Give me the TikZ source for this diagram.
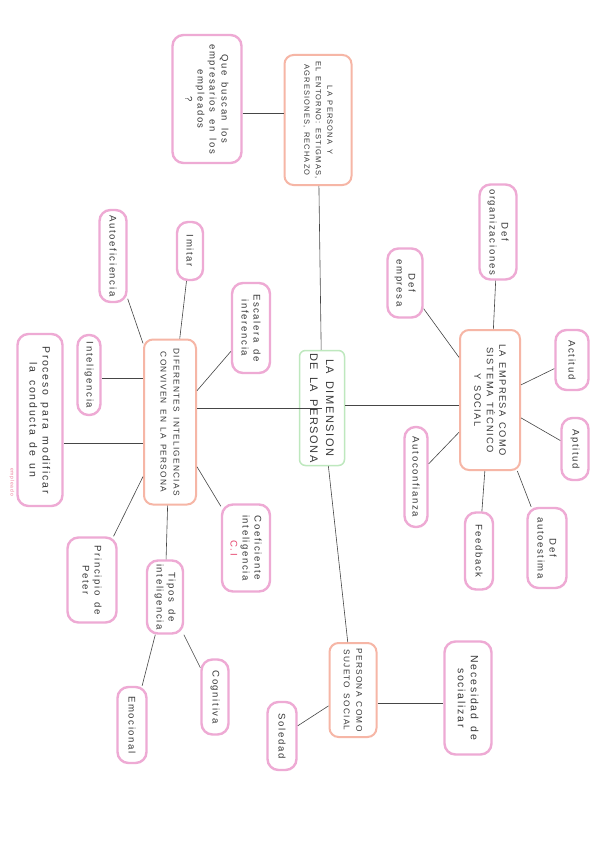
\documentclass[tikz,border=0pt]{standalone}
\usepackage{fontspec}
\setmainfont{Liberation Sans}
\newfontfamily\hand[LetterSpace=17,WordSpace=1.6]{Liberation Sans}
\newfontfamily\handcaps[LetterSpace=15,WordSpace=1.5]{Liberation Sans}
\usetikzlibrary{calc}
\definecolor{leafpink}{RGB}{238,170,212}
\definecolor{salmon}{RGB}{246,182,166}
\definecolor{mint}{RGB}{190,232,190}
\definecolor{inkgray}{RGB}{70,70,70}
\definecolor{ciRed}{RGB}{230,70,110}
\begin{document}
\begin{tikzpicture}[x=1pt,y=-1pt,
  every node/.style={rotate=-90, align=center, text=black!78, inner sep=1pt},
  leaf/.style={draw=leafpink, line width=2.4pt, rounded corners=11pt, font=\hand\fontsize{9.6}{12}\selectfont},
  mid/.style={draw=salmon, line width=2pt, rounded corners=9pt, font=\handcaps\fontsize{9.3}{12.5}\selectfont},
  root/.style={draw=mint, line width=1.5pt, rounded corners=6pt, font=\handcaps\fontsize{11}{16}\selectfont},
  link/.style={draw=inkgray, line width=0.6pt}]
\useasboundingbox[fill=white] (0,0) rectangle (608,848);

% centre and first level
\node[root, minimum width=115pt, minimum height=45pt] (root) at (322,408) {LA DIMENSION\\DE LA PERSONA};
\node[mid, minimum width=130pt, minimum height=67pt, font=\handcaps\fontsize{7.5}{11.5}\selectfont] (entorno) at (318,120) {LA PERSONA Y\\EL ENTORNO: ESTIGMAS,\\AGRESIONES, RECHAZO};
\node[mid, minimum width=165pt, minimum height=52pt, font=\handcaps\fontsize{8.3}{13}\selectfont] (dif) at (170,422) {DIFERENTES INTELIGENCIAS\\CONVIVEN EN LA PERSONA};
\node[mid, minimum width=140pt, minimum height=60pt] (empresa) at (490,400) {LA EMPRESA COMO\\SISTEMA TÉCNICO\\Y SOCIAL};
\node[mid, minimum width=94pt, minimum height=47pt, font=\handcaps\fontsize{8.3}{12.5}\selectfont] (sujeto) at (353,690) {PERSONA COMO\\SUJETO SOCIAL};

% leaves
\node[leaf, minimum width=128pt, minimum height=69pt, font=\hand\fontsize{9.5}{12}\selectfont] (quebuscan) at (207,99) {Que buscan los\\empresarios en los\\empleados\\?};

\node[leaf, minimum width=95pt, minimum height=37pt] (deforg) at (498,232) {Def\\organizaciones};
\node[leaf, minimum width=69pt, minimum height=35pt] (defemp) at (405,283) {Def\\empresa};
\node[leaf, minimum width=60pt, minimum height=33pt] (actitud) at (572,360) {Actitud};
\node[leaf, minimum width=62pt, minimum height=27pt] (aptitud) at (575,449) {Aptitud};
\node[leaf, minimum width=80pt, minimum height=39pt] (defauto) at (547,548) {Def\\autoestima};
\node[leaf, minimum width=77pt, minimum height=28pt] (feedback) at (479,551) {Feedback};
\node[leaf, minimum width=100pt, minimum height=23pt] (autoconf) at (416,477) {Autoconfianza};

\node[leaf, minimum width=92pt, minimum height=27pt] (autoef) at (113,256) {Autoeficiencia};
\node[leaf, minimum width=58pt, minimum height=26pt] (imitar) at (190,251) {Imitar};
\node[leaf, minimum width=90pt, minimum height=38pt] (escalera) at (251,328) {Escalera de\\inferencia};
\node[leaf, minimum width=80pt, minimum height=23pt] (intelig) at (89,375) {Inteligencia};
\node[leaf, minimum width=172pt, minimum height=45pt, font=\hand\fontsize{10.5}{13}\selectfont] (proceso) at (40,420) {Proceso para modificar\\la conducta de un};
\node[text=ciRed!70, font=\hand\fontsize{5}{6}\selectfont] (empleado) at (12,482) {empleado};
\node[leaf, minimum width=87pt, minimum height=48pt] (coef) at (246,548) {Coeficiente\\inteligencia\\\textcolor{ciRed}{C.I}};
\node[leaf, minimum width=85pt, minimum height=49pt] (principio) at (92,580) {Principio de\\Peter};
\node[leaf, minimum width=73pt, minimum height=36pt] (tipos) at (165,597) {Tipos de\\inteligencia};
\node[leaf, minimum width=75pt, minimum height=27pt] (cognitiva) at (215,697) {Cognitiva};
\node[leaf, minimum width=76pt, minimum height=29pt] (emocional) at (132,725) {Emocional};

\node[leaf, minimum width=113pt, minimum height=47pt, font=\hand\fontsize{10.5}{13}\selectfont] (necesidad) at (468,698) {Necesidad de\\socializar};
\node[leaf, minimum width=68pt, minimum height=29pt] (soledad) at (282,736) {Soledad};

% connectors
\draw[link] (root) -- (entorno);
\draw[link] (root.east |- 0,408) -- (dif.north |- 0,408);
\draw[link] (root.north |- 0,405) -- (empresa.south |- 0,405);
\draw[link] (root) -- (sujeto);
\draw[link] (quebuscan.north |- 0,113) -- (entorno.south |- 0,113);

\draw[link] (empresa) -- (deforg);
\draw[link] (empresa) -- (defemp);
\draw[link] (empresa) -- (actitud);
\draw[link] (empresa) -- (aptitud);
\draw[link] (empresa) -- (defauto);
\draw[link] (empresa) -- (feedback);
\draw[link] (empresa) -- (autoconf);

\draw[link] (dif) -- (autoef);
\draw[link] (dif) -- (imitar);
\draw[link] (dif) -- (escalera);
\draw[link] (dif.south |- 0,378) -- (intelig.north |- 0,378);
\draw[link] (dif.south |- 0,443) -- (proceso.north |- 0,443);
\draw[link] (dif) -- (coef);
\draw[link] (dif) -- (principio);
\draw[link] (dif) -- (tipos);
\draw[link] (tipos) -- (cognitiva);
\draw[link] (tipos) -- (emocional);

\draw[link] (sujeto.north |- 0,703) -- (necesidad.south |- 0,703);
\draw[link] (sujeto) -- (soledad);
\end{tikzpicture}
\end{document}
